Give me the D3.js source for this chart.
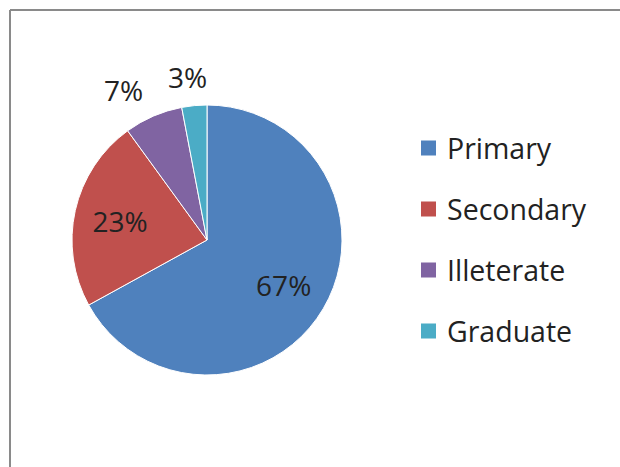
<!DOCTYPE html>
<html>
<head>
<meta charset="utf-8">
<script src="https://cdn.jsdelivr.net/npm/d3@7"></script>
<style>
  html, body { margin: 0; padding: 0; background: #fff; }
  svg { display: block; }
</style>
</head>
<body>
<svg id="chart" width="620" height="467"></svg>
<script>
// Education level shares (percent)
const categories = ["Primary", "Secondary", "Illeterate", "Graduate"];
const values = [67, 23, 7, 3];
const colors = ["#4F81BD", "#C0504D", "#8064A2", "#4BACC6"];

const svg = d3.select("#chart");
const W = 620, H = 467;
const FONT = "'Open Sans', 'Liberation Sans', sans-serif";

// Frame: left and top edges of the chart area
svg.append("line").attr("x1", 10).attr("y1", 10).attr("x2", W).attr("y2", 10)
  .attr("stroke", "#8a8a8a").attr("stroke-width", 2);
svg.append("line").attr("x1", 10).attr("y1", 10).attr("x2", 10).attr("y2", H)
  .attr("stroke", "#8a8a8a").attr("stroke-width", 2);

const cx = 207, cy = 240, R = 135;
const color = d3.scaleOrdinal().domain(categories).range(colors);

const pie = d3.pie().sort(null).value(d => d.value);
const data = categories.map((c, i) => ({ name: c, value: values[i] }));
const arcs = pie(data);

const arc = d3.arc().innerRadius(0).outerRadius(R);
const g = svg.append("g").attr("transform", `translate(${cx},${cy})`);

g.selectAll("path.slice")
  .data(arcs)
  .join("path")
  .attr("class", "slice")
  .attr("d", arc)
  .attr("fill", d => color(d.data.name))
  .attr("stroke", "#ffffff")
  .attr("stroke-width", 1);

// Labels: large slices inside, small slices outside the rim
const inner = d3.arc().innerRadius(R * 0.66).outerRadius(R * 0.66);
const outer = d3.arc().innerRadius(R * 1.21).outerRadius(R * 1.21);
const total = d3.sum(values);

const labels = g.selectAll("text.pct")
  .data(arcs)
  .join("text")
  .attr("class", "pct")
  .attr("text-anchor", "middle")
  .attr("dominant-baseline", "central")
  .attr("font-family", FONT)
  .attr("font-size", 28)
  .attr("fill", "#222")
  .text(d => Math.round(d.data.value / total * 100) + "%")
  .each(function(d) {
    d.outside = d.data.value / total < 0.1;
    d.pos = (d.outside ? outer : inner).centroid(d);
    d.w = this.getComputedTextLength();
  });

// Keep outside labels from crowding: walk them from the rightmost one and
// push each neighbour left until there is a clear gap between the boxes.
const gap = 25;
const outs = arcs.filter(d => d.outside).sort((a, b) => b.pos[0] - a.pos[0]);
if (outs.length) outs[0].pos[0] -= 4;
for (let i = 1; i < outs.length; i++) {
  const right = outs[i - 1], left = outs[i];
  const maxX = right.pos[0] - right.w / 2 - gap - left.w / 2;
  if (left.pos[0] > maxX) left.pos[0] = maxX;
}

labels.attr("transform", d => `translate(${d.pos[0]},${d.pos[1]})`);

// Legend
const leg = svg.append("g").attr("transform", "translate(421,148)");
const rowH = 61;
const items = leg.selectAll("g.item")
  .data(categories)
  .join("g")
  .attr("class", "item")
  .attr("transform", (d, i) => `translate(0,${i * rowH})`);

items.append("rect")
  .attr("x", 0).attr("y", -7.5)
  .attr("width", 15).attr("height", 15)
  .attr("fill", d => color(d));

items.append("text")
  .attr("x", 26).attr("y", 0)
  .attr("dominant-baseline", "central")
  .attr("font-family", FONT)
  .attr("font-size", 28.5)
  .attr("fill", "#222")
  .text(d => d);
</script>
</body>
</html>
